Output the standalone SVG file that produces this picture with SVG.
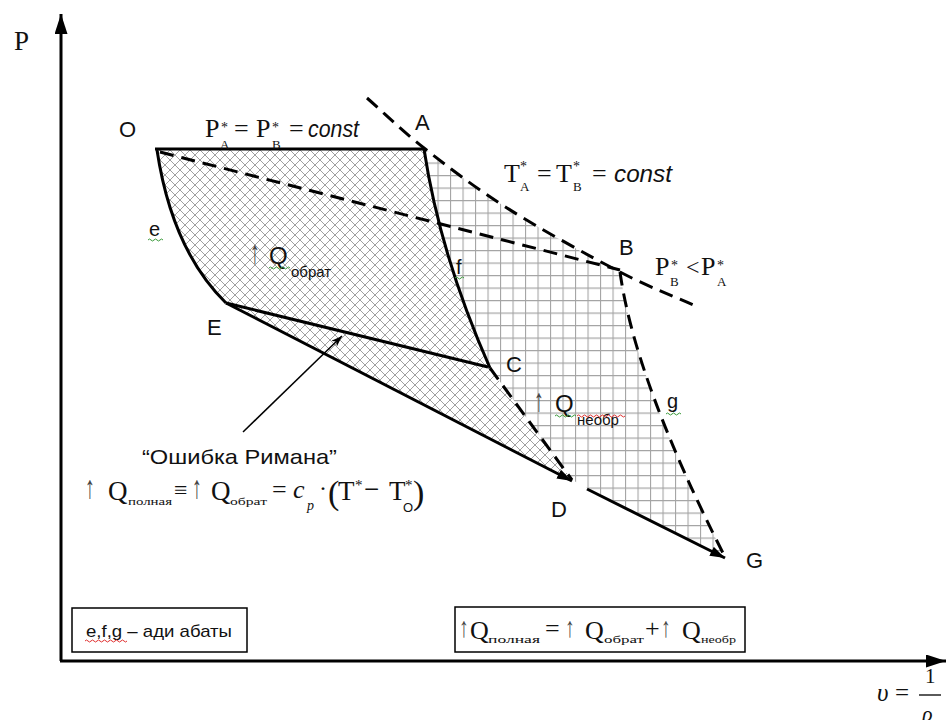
<svg xmlns="http://www.w3.org/2000/svg" width="950" height="720" viewBox="0 0 950 720">
<style>
.sans{font-family:"Liberation Sans","DejaVu Sans",sans-serif;fill:#111}
.serif{font-family:"Liberation Serif","DejaVu Serif",serif;fill:#111}
.it{font-style:italic}
.ln{fill:none;stroke:#000;stroke-width:3;stroke-linejoin:round}
.dash{fill:none;stroke:#000;stroke-width:3;stroke-dasharray:14 8}
.thin{fill:none;stroke:#000;stroke-width:1.5}
.box{fill:#fff;stroke:#000;stroke-width:1.5}
.up{font-family:"Liberation Sans","DejaVu Sans",sans-serif;fill:#444}
.sqg{fill:none;stroke:#3a9a3a;stroke-width:1}
.sqr{fill:none;stroke:#e03030;stroke-width:1}
</style>
<defs>
<pattern id="cross" patternUnits="userSpaceOnUse" width="10" height="10">
<path d="M0,0 L10,10 M10,0 L0,10" stroke="#a0a0a0" stroke-width="1" fill="none"/>
</pattern>
<pattern id="grid" patternUnits="userSpaceOnUse" width="12.5" height="12.5">
<path d="M0,0.5 H12.5 M0.5,0 V12.5" stroke="#a4a4a4" stroke-width="1.2" fill="none"/>
</pattern>
<marker id="ah" markerUnits="userSpaceOnUse" markerWidth="16" markerHeight="12" refX="15" refY="5" orient="auto">
<path d="M0,0 L15,5 L0,10 Z" fill="#000"/>
</marker>
<marker id="ahs" markerUnits="userSpaceOnUse" markerWidth="12" markerHeight="10" refX="11" refY="4" orient="auto">
<path d="M0,0 L11,4 L0,8 L3,4 Z" fill="#000"/>
</marker>
<marker id="ax" markerUnits="userSpaceOnUse" markerWidth="22" markerHeight="14" refX="20" refY="6.5" orient="auto">
<path d="M0,0 L20,6.5 L0,13 Z" fill="#000"/>
</marker>
</defs>
<rect width="950" height="720" fill="#fff"/>

<!-- regions -->
<g id="region-obrat">
<path d="M157,150 L424,149 Q440,255 490,368 L572,480 L226,303 Q172,250 157,150 Z" fill="url(#cross)"/>
</g>
<g id="region-neobr">
<path d="M424,148 C447.3,166.3 474.3,187.3 507,208 C539.7,228.7 588.2,255.5 620,272 Q635,380 725,557 L572,480 L490,368 Q440,255 424,148 Z" fill="url(#grid)"/>
</g>

<!-- connectors -->
<g id="connectors">
<path class="ln" d="M61,661 L61,14" marker-end="url(#ax)"/>
<path class="ln" d="M60,661 L946,661" marker-end="url(#ax)"/>
<path class="ln" d="M155,149 L424,149"/>
<path class="ln" d="M424,149 Q440,255 490,368"/>
<path class="ln" d="M157,150 Q172,250 226,303"/>
<path class="ln" d="M226,303 L488,367"/>
<path class="ln" d="M226,303 L572,481" marker-end="url(#ah)"/>
<path class="ln" d="M587,489 L725,558" marker-end="url(#ah)"/>
<path class="dash" d="M490,368 L572,480"/>
<path class="dash" d="M620,272 Q635,380 725,557"/>
<path class="dash" d="M160,152 L620,270"/>
<path class="dash" d="M367,98 C386,114.7 400.7,129.7 424,148 C447.3,166.3 474.3,187.3 507,208 C539.7,228.7 588.2,255.5 620,272 C651.8,288.5 672,295.3 698,307"/>
<path class="thin" d="M243,432 L342,336" marker-end="url(#ahs)"/>
</g>

<!-- axis labels -->
<g id="axis-P"><text class="serif" x="14" y="50" font-size="27">P</text></g>
<g id="axis-v">
<text class="serif it" x="877" y="701" font-size="25">υ</text>
<text class="serif" x="895" y="701" font-size="25">=</text>
<text class="serif" x="925" y="683" font-size="21">1</text>
<path d="M919,695 H941" stroke="#000" stroke-width="1.3"/>
<text class="serif it" x="922" y="721" font-size="22">ρ</text>
</g>

<!-- point labels -->
<g id="pt-O"><text class="sans" x="119" y="137" font-size="22">O</text></g>
<g id="pt-A"><text class="sans" x="415" y="130" font-size="22">A</text></g>
<g id="pt-B"><text class="sans" x="619" y="255" font-size="22">B</text></g>
<g id="pt-C"><text class="sans" x="506" y="372" font-size="22">C</text></g>
<g id="pt-D"><text class="sans" x="551" y="517" font-size="22">D</text></g>
<g id="pt-E"><text class="sans" x="207" y="335" font-size="22">E</text></g>
<g id="pt-G"><text class="sans" x="746" y="568" font-size="22">G</text></g>

<!-- adiabat labels -->
<g id="lbl-e"><text class="sans" x="149" y="236" font-size="20">e</text>
<path class="sqg" d="M148,240 q1.5,-2 3,0 t3,0 t3,0 t3,0 t3,0"/></g>
<g id="lbl-f"><text class="sans" x="456" y="274" font-size="20">f</text>
<path class="sqg" d="M455,278 q1.5,-2 3,0 t3,0 t3,0"/></g>
<g id="lbl-g"><text class="sans" x="667" y="408" font-size="20">g</text>
<path class="sqg" d="M666,414 q1.5,-2 3,0 t3,0 t3,0 t3,0 t3,0"/></g>

<!-- top formulas -->
<g id="eq-P">
<text class="serif" x="205" y="137" font-size="26">P</text>
<text class="serif" x="221" y="132" font-size="14">*</text>
<text class="serif" x="220" y="149" font-size="13">A</text>
<text class="serif" x="234" y="137" font-size="26">=</text>
<text class="serif" x="256" y="137" font-size="26">P</text>
<text class="serif" x="272" y="132" font-size="14">*</text>
<text class="serif" x="272" y="149" font-size="13">B</text>
<text class="serif" x="289" y="137" font-size="26">=</text>
<text class="sans it" x="308" y="137" font-size="23" textLength="51" lengthAdjust="spacingAndGlyphs">const</text>
</g>
<g id="eq-T">
<text class="serif" x="504" y="182" font-size="26">T</text>
<text class="serif" x="520" y="171" font-size="14">*</text>
<text class="serif" x="520" y="191" font-size="13">A</text>
<text class="serif" x="537" y="182" font-size="26">=</text>
<text class="serif" x="556" y="182" font-size="26">T</text>
<text class="serif" x="573" y="171" font-size="14">*</text>
<text class="serif" x="573" y="191" font-size="13">B</text>
<text class="serif" x="592" y="182" font-size="26">=</text>
<text class="sans it" x="614" y="182" font-size="23" textLength="58" lengthAdjust="spacingAndGlyphs">const</text>
</g>
<g id="eq-PB">
<text class="serif" x="655" y="275" font-size="26">P</text>
<text class="serif" x="671" y="270" font-size="14">*</text>
<text class="serif" x="670" y="286" font-size="13">B</text>
<text class="serif" x="686" y="275" font-size="24">&lt;</text>
<text class="serif" x="701" y="275" font-size="26">P</text>
<text class="serif" x="717" y="270" font-size="14">*</text>
<text class="serif" x="717" y="286" font-size="13">A</text>
</g>

<!-- Q labels -->
<g id="lbl-Qobrat">
<text class="up" font-size="20" transform="translate(250,263) scale(1,1.6)">↑</text>
<text class="sans" x="269" y="264" font-size="24">Q</text>
<text class="sans" x="291" y="277" font-size="15">обрат</text>
<path class="sqg" d="M269,268 q1.5,-2 3,0 t3,0 t3,0 t3,0 t3,0 t3,0 t3,0"/>
</g>
<g id="lbl-Qneobr">
<text class="up" font-size="20" transform="translate(534,411) scale(1,1.6)">↑</text>
<text class="sans" x="555" y="412" font-size="24">Q</text>
<text class="sans" x="577" y="425" font-size="15">необр</text>
<path class="sqg" d="M555,416 q1.5,-2 3,0 t3,0 t3,0 t3,0 t3,0 t3,0 t3,0"/>
<path class="sqr" d="M577,416 q1.5,-2 3,0 t3,0 t3,0 t3,0 t3,0 t3,0 t3,0 t3,0 t3,0 t3,0 t3,0 t3,0 t3,0 t3,0 t3,0 t3,0"/>
</g>

<!-- Riemann error -->
<g id="lbl-riemann">
<text class="sans" x="142" y="464" font-size="21" textLength="195" lengthAdjust="spacingAndGlyphs">“Ошибка Римана”</text>
<text class="up" font-size="20" transform="translate(85,498) scale(1,1.6)">↑</text>
<text class="serif" x="108" y="500" font-size="27">Q</text>
<text class="serif" x="128" y="505" font-size="11" textLength="44" lengthAdjust="spacingAndGlyphs">полная</text>
<text class="serif" x="174" y="498" font-size="24">≡</text>
<text class="up" font-size="20" transform="translate(192,498) scale(1,1.6)">↑</text>
<text class="serif" x="211" y="500" font-size="27">Q</text>
<text class="serif" x="230" y="505" font-size="11" textLength="37" lengthAdjust="spacingAndGlyphs">обрат</text>
<text class="serif" x="272" y="498" font-size="26">=</text>
<text class="serif it" x="293" y="498" font-size="26">c</text>
<text class="serif it" x="307" y="510" font-size="14">p</text>
<text class="serif" x="319" y="496" font-size="24">·</text>
<text class="serif" x="328" y="504" font-size="34">(</text>
<text class="serif" x="338" y="500" font-size="27">T</text>
<text class="serif" x="355" y="490" font-size="15">*</text>
<text class="serif" x="364" y="498" font-size="27">−</text>
<text class="serif" x="389" y="500" font-size="27">T</text>
<text class="serif" x="405" y="490" font-size="15">*</text>
<text class="sans" x="403" y="512" font-size="13">O</text>
<text class="serif" x="413" y="504" font-size="34">)</text>
</g>

<!-- legend boxes -->
<g id="box-adiabats">
<rect class="box" x="72" y="608" width="175" height="44"/>
<text class="sans" x="86" y="637" font-size="17" textLength="146" lengthAdjust="spacingAndGlyphs">e,f,g – ади абаты</text>
<path class="sqr" d="M85,641 q1.5,-2 3,0 t3,0 t3,0 t3,0 t3,0 t3,0 t3,0 t3,0 t3,0 t3,0 t3,0 t3,0 t3,0 t3,0"/>
</g>
<g id="box-sum">
<rect class="box" x="455" y="607" width="290" height="45"/>
<text class="up" font-size="19" transform="translate(459,637) scale(1,1.5)">↑</text>
<text class="serif" x="470" y="639" font-size="26">Q</text>
<text class="serif" x="488" y="643" font-size="10" textLength="52" lengthAdjust="spacingAndGlyphs">полная</text>
<text class="serif" x="545" y="637" font-size="26">=</text>
<text class="up" font-size="19" transform="translate(565,637) scale(1,1.5)">↑</text>
<text class="serif" x="585" y="639" font-size="26">Q</text>
<text class="serif" x="604" y="643" font-size="10" textLength="40" lengthAdjust="spacingAndGlyphs">обрат</text>
<text class="serif" x="645" y="637" font-size="26">+</text>
<text class="up" font-size="19" transform="translate(661,637) scale(1,1.5)">↑</text>
<text class="serif" x="682" y="639" font-size="26">Q</text>
<text class="serif" x="701" y="643" font-size="10" textLength="35" lengthAdjust="spacingAndGlyphs">необр</text>
</g>
</svg>
